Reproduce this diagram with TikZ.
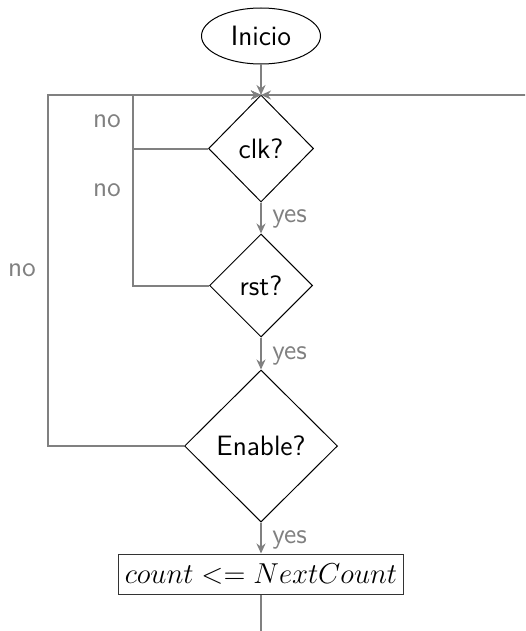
\documentclass[tikz,border=0pt]{standalone}
\usepackage{fontspec}
\usetikzlibrary{shapes.geometric,arrows.meta}
\definecolor{linegray}{RGB}{128,128,128}
\tikzset{
  base/.style={font=\fontsize{14}{17}\selectfont\sffamily, inner sep=0pt},
  startnode/.style={base, ellipse, draw=black, line width=0.5pt, minimum width=59.5pt, minimum height=28pt},
  decision/.style={base, diamond, draw=black, line width=0.5pt, shape aspect=1},
  action/.style={base, rectangle, draw=black!80, line width=0.5pt, minimum width=142.5pt, minimum height=20pt},
  flow/.style={draw=linegray, line width=1pt, -{Stealth[length=5pt,width=4.5pt]}},
  plain/.style={draw=linegray, line width=1pt},
  lbl/.style={base, text=linegray},
}
\begin{document}
\begin{tikzpicture}[x=0.5pt,y=-0.5pt]
\useasboundingbox (0,0) rectangle (525,631);
\clip (0,0) rectangle (525,631);
\node[startnode] (inicio) at (261,36) {Inicio};
\node[decision, minimum width=52.5pt, minimum height=53.5pt] (clk) at (261,148.5) {clk?};
\node[decision, minimum width=51.5pt, minimum height=51.5pt] (rst) at (261,285.5) {rst?};
\node[decision, minimum width=76.5pt, minimum height=76pt] (en) at (261,446) {Enable?};
\node[action] (box) at (261,574) {$count <= NextCount$};
\coordinate (j) at (261,95);
\coordinate (ci) at (133,148.5);
\coordinate (ri) at (133,285.5);
\coordinate (ti) at (133,95);
\coordinate (eo) at (48,446);
\coordinate (to) at (48,95);
\coordinate (bb) at (261,700);
\coordinate (br) at (560,700);
\coordinate (tr) at (560,95);
\draw[flow] (inicio.south) -- (j);
\draw[flow] (clk.south) -- (rst.north);
\draw[flow] (rst.south) -- (en.north);
\draw[flow] (en.south) -- (box.north);
\draw[flow] (clk.west) -- (ci) -- (ti) -- (j);
\draw[flow] (rst.west) -- (ri) -- (ti) -- (j);
\draw[flow] (en.west) -- (eo) -- (to) -- (j);
\draw[flow] (box.south) -- (bb) -- (br) -- (tr) -- (j);
\node[lbl, anchor=base west] (y1) at (272,222) {yes};
\node[lbl, anchor=base west] (y2) at (272,359) {yes};
\node[lbl, anchor=base west] (y3) at (272,543) {yes};
\node[lbl, anchor=base] (n1) at (107,127) {no};
\node[lbl, anchor=base] (n2) at (107,196) {no};
\node[lbl, anchor=base] (n3) at (22,276) {no};
\end{tikzpicture}
\end{document}
